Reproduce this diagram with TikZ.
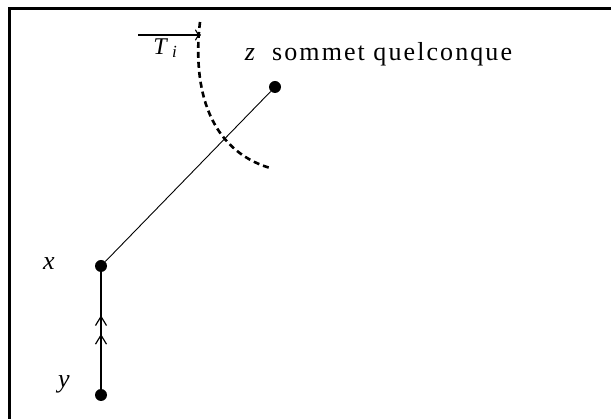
\documentclass[tikz,border=0pt]{standalone}
\usepackage{fontspec}
\setmainfont{Liberation Serif}
\newfontfamily\spacedfont[LetterSpace=8]{Liberation Serif}
\usetikzlibrary{arrows.meta,decorations.markings}
\begin{document}
\begin{tikzpicture}[x=1pt,y=-1pt,
  dot/.style={circle,fill=black,inner sep=0pt,minimum size=12pt},
  lbl/.style={font=\fontsize{26}{28}\selectfont\itshape,inner sep=0pt},
  txt/.style={font=\spacedfont\fontsize{26}{28}\selectfont,inner sep=0pt},
  upmarks/.style={postaction={decorate,decoration={markings,
     mark=at position 0.46 with {\draw[line width=1.2pt] (-9pt,-5.5pt) -- (0pt,0pt) -- (-9pt,5.5pt);},
     mark=at position 0.62 with {\draw[line width=1.2pt] (-9pt,-5.5pt) -- (0pt,0pt) -- (-9pt,5.5pt);}}}}]
\useasboundingbox (0,0) rectangle (611,419);
\draw[line width=2.5pt] (9.5,419) -- (9.5,8.5) -- (611,8.5);
\node[dot] (z) at (275,87) {};
\node[dot] (x) at (101,266) {};
\node[dot] (y) at (101,395) {};
\draw[line width=0.9pt] (x) -- (z);
\draw[line width=1.6pt,upmarks] (y) -- (x);
\draw[line width=2.6pt,dash pattern=on 6pt off 4pt] (200,22) .. controls (192,90) and (210,150) .. (270,168);
\node[lbl,anchor=base] (xl) at (49,270) {x};
\node[lbl,anchor=base] (yl) at (64,388) {y};
\node[lbl,anchor=base] (zl) at (250,61) {z};
\node[txt,anchor=base west] (zt) at (272,61) {sommet quelconque};
\node[font=\fontsize{24}{26}\selectfont\itshape,inner sep=0pt,anchor=base] (Tl) at (160,55) {T};
\node[font=\fontsize{17}{18}\selectfont\itshape,inner sep=0pt,anchor=base] (il) at (174.5,58) {i};
\coordinate (ta) at (138,35);
\coordinate (tb) at (201,35);
\draw[line width=1.1pt,-{To[length=6pt,width=11pt]}] (ta) -- (tb);
\end{tikzpicture}
\end{document}
